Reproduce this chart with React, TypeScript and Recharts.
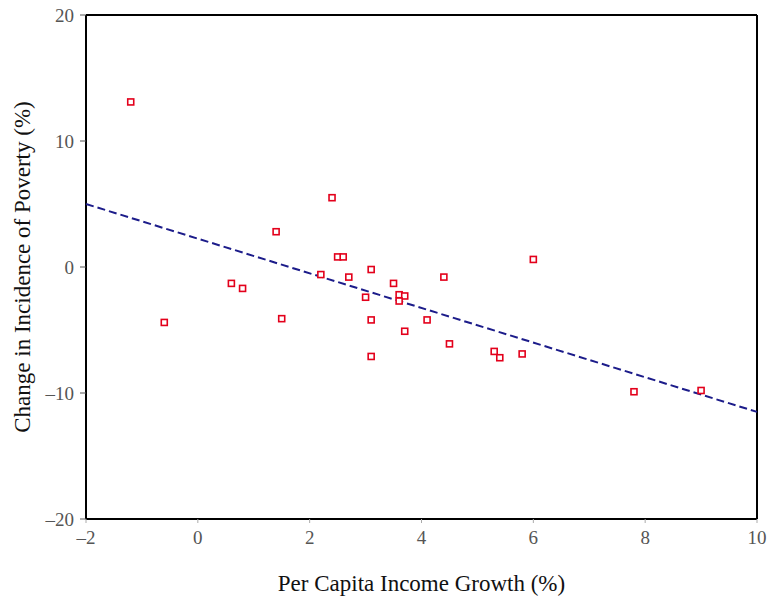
import React from "react";
import {
  ScatterChart,
  Scatter,
  XAxis,
  YAxis,
  ReferenceLine,
  Label,
} from "recharts";

// observed countries: income growth vs change in poverty incidence
const growthX = [
  -1.2, -0.6, 0.6, 0.8, 1.4, 1.5, 2.2, 2.4, 2.5, 2.6, 2.7, 3.1, 3.0, 3.1, 3.1,
  3.5, 3.6, 3.7, 3.6, 3.7, 4.1, 4.4, 4.5, 5.3, 5.4, 5.8, 6.0, 7.8, 9.0,
];
const povertyY = [
  13.1, -4.4, -1.3, -1.7, 2.8, -4.1, -0.6, 5.5, 0.8, 0.8, -0.8, -0.2, -2.4,
  -4.2, -7.1, -1.3, -2.2, -2.3, -2.7, -5.1, -4.2, -0.8, -6.1, -6.7, -7.2, -6.9,
  0.6, -9.9, -9.8,
];

// fitted regression line end points
const trendX = [-2, 10];
const trendY = [5.0, -11.5];

const xTicks = [-2, 0, 2, 4, 6, 8, 10];
const yTicks = [-20, -10, 0, 10, 20];

const points = growthX.map((x, i) => ({ x, y: povertyY[i] }));
const trend = trendX.map((x, i) => ({ x, y: trendY[i] }));

const fmt = (v: number) => (v < 0 ? `\u2013${Math.abs(v)}` : `${v}`);

const font = "'Liberation Serif', 'DejaVu Serif', serif";

const Square = (props: any) => {
  const { cx, cy } = props;
  if (cx == null || cy == null) return <g />;
  return (
    <rect
      x={cx - 3}
      y={cy - 3}
      width={6}
      height={6}
      fill="#fff"
      stroke="#e3001b"
      strokeWidth={1.6}
    />
  );
};

export default function App() {
  return (
    <div style={{ position: "absolute", left: 0, top: 0, background: "#fff" }}>
      <ScatterChart
        width={768}
        height={600}
        margin={{ top: 15, right: 11, bottom: 51, left: 0 }}
      >
        <XAxis
          type="number"
          dataKey="x"
          domain={[-2, 10]}
          ticks={xTicks}
          tickFormatter={fmt}
          height={30}
          axisLine={{ stroke: "#000", strokeWidth: 2 }}
          tickLine={{ stroke: "#aaa" }}
          tickSize={4}
          tickMargin={8}
          tick={{ fill: "#555", fontSize: 19, fontFamily: font }}
        >
          <Label
            value="Per Capita Income Growth (%)"
            position="bottom"
            offset={26}
            style={{ fill: "#111", fontSize: 23, fontFamily: font }}
          />
        </XAxis>
        <YAxis
          type="number"
          dataKey="y"
          domain={[-20, 20]}
          ticks={yTicks}
          tickFormatter={fmt}
          width={86}
          axisLine={{ stroke: "#000", strokeWidth: 2 }}
          tickLine={{ stroke: "#555" }}
          tickSize={6}
          tickMargin={6}
          tick={{ fill: "#555", fontSize: 19, fontFamily: font }}
        >
          <Label
            value="Change in Incidence of Poverty (%)"
            angle={-90}
            position="insideLeft"
            offset={22}
            style={{
              fill: "#111",
              fontSize: 23,
              fontFamily: font,
              textAnchor: "middle",
            }}
          />
        </YAxis>
        <ReferenceLine y={20} stroke="#000" strokeWidth={2} />
        <ReferenceLine x={10} stroke="#000" strokeWidth={2} />
        <Scatter
          data={trend}
          line={{ stroke: "#1c1c8a", strokeWidth: 2, strokeDasharray: "8 4" }}
          shape={() => <g />}
          isAnimationActive={false}
        />
        <Scatter data={points} shape={Square} isAnimationActive={false} />
      </ScatterChart>
    </div>
  );
}
